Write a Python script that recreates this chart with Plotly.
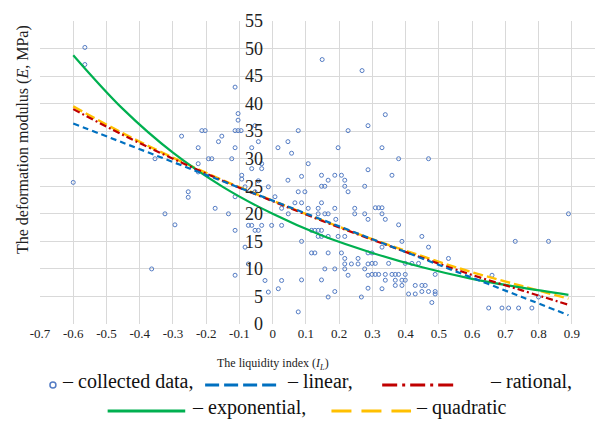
import plotly.graph_objects as go

# ---------------- data ----------------
li_vals = [
    -0.600, -0.565, -0.565, -0.364, -0.354, -0.324, -0.294, -0.274, -0.254, -0.254,
    -0.224, -0.224, -0.224, -0.213, -0.203,
    -0.193, -0.183, -0.173, -0.163, -0.153, -0.133, -0.123, -0.113, -0.104, -0.104,
    -0.113, -0.104, -0.095, -0.113, -0.113, -0.113, -0.113, -0.093, -0.093, -0.083,
    -0.083, -0.073, -0.073, -0.063, -0.063, -0.063, -0.053, -0.053, -0.053, -0.043,
    -0.043, -0.043, -0.033, -0.033, -0.033, -0.023, -0.013, -0.013, -0.003,
    0.007, 0.016, 0.017, 0.027, 0.027, 0.027, 0.046, 0.046, 0.047, 0.057,
    0.067, 0.077, 0.077, 0.077, 0.087, 0.087, 0.087, 0.087, 0.097,
    0.107, 0.107, 0.117, 0.117, 0.127, 0.127, 0.137, 0.137, 0.137, 0.137,
    0.147, 0.147, 0.147, 0.147, 0.147, 0.147, 0.149, 0.157, 0.157, 0.157,
    0.167, 0.167, 0.167, 0.167, 0.167, 0.187, 0.187, 0.187, 0.187, 0.190,
    0.197, 0.197,
    0.207, 0.207, 0.217, 0.217, 0.217, 0.217, 0.217, 0.217, 0.227, 0.227,
    0.227, 0.237, 0.247, 0.247, 0.257, 0.257, 0.267, 0.269, 0.277, 0.277,
    0.277, 0.287, 0.287, 0.287, 0.287, 0.287, 0.287, 0.287,
    0.299, 0.299, 0.299, 0.309, 0.309, 0.309, 0.319, 0.319, 0.329, 0.329,
    0.329, 0.329, 0.329, 0.339, 0.339, 0.339, 0.339, 0.349, 0.359, 0.359,
    0.369, 0.369, 0.369, 0.379, 0.379, 0.379, 0.389, 0.389, 0.389, 0.399,
    0.399, 0.399,
    0.409, 0.419, 0.429, 0.429, 0.439, 0.449, 0.449, 0.449, 0.459, 0.469,
    0.469, 0.469, 0.479, 0.489, 0.489, 0.489, 0.529, 0.650, 0.660, 0.690,
    0.710, 0.730, 0.740, 0.780, 0.800, 0.830, 0.890,
]
e_vals = [
    25.7, 50.2, 47.1, 10.0, 30.0, 20.0, 18.0, 34.1, 24.0, 23.0,
    29.1, 32.0, 27.6, 35.1, 35.1,
    30.0, 30.0, 21.0, 33.1, 34.1, 20.0, 30.0, 43.0, 38.2, 37.0,
    35.1, 35.1, 35.1, 32.0, 23.1, 17.0, 8.85, 27.0, 26.3, 24.9,
    13.95, 17.9, 10.9, 32.0, 28.2, 17.9, 36.0, 17.0, 24.0, 33.1,
    26.0, 17.0, 29.1, 28.2, 17.9, 7.9, 24.9, 5.8, 17.9,
    23.1, 32.0, 6.4, 21.0, 17.9, 7.9, 33.1, 26.1, 20.0, 31.0,
    22.0, 35.1, 24.0, 2.2, 26.8, 22.0, 15.0, 8.0, 24.0,
    29.1, 21.0, 17.0, 12.9, 17.0, 12.9, 21.0, 20.0, 17.0, 15.9,
    27.0, 25.0, 22.0, 17.0, 15.9, 8.0, 48.0, 25.0, 20.0, 10.0,
    26.1, 20.0, 15.9, 12.9, 4.9, 27.0, 21.0, 10.0, 5.9, 19.0,
    32.0, 15.9,
    27.0, 12.9, 26.1, 25.0, 15.9, 11.9, 10.9, 10.0, 35.1, 24.0,
    8.85, 10.9, 21.0, 20.0, 11.9, 10.9, 4.9, 46.0, 25.0, 20.0,
    10.0, 36.0, 28.0, 19.0, 12.9, 10.9, 8.85, 6.5,
    12.9, 11.0, 9.0, 21.1, 11.0, 9.0, 21.1, 9.0, 21.1, 20.0,
    32.0, 13.95, 6.4, 38.0, 19.0, 9.0, 7.95, 11.0, 27.0, 9.0,
    9.0, 7.95, 7.0, 30.0, 18.0, 9.0, 15.0, 7.95, 7.0, 11.0,
    9.0, 7.95,
    5.45, 11.0, 7.0, 5.45, 11.0, 15.9, 7.0, 5.9, 7.0, 30.0,
    13.95, 5.9, 3.9, 9.0, 5.9, 5.45, 11.9, 2.9, 8.85, 2.9,
    2.9, 15.0, 2.9, 2.9, 4.9, 15.0, 20.0,
]

curve_x = [-0.6, -0.45, -0.3, -0.15, 0.0, 0.15, 0.3, 0.45, 0.6, 0.75, 0.89]
linear_e = [36.4, 32.9, 29.4, 25.9, 22.4, 18.9, 15.4, 11.9, 8.4, 4.9, 1.6]
rational_e = [39.0, 34.3, 30.0, 26.0, 22.3, 18.7, 15.3, 12.0, 8.9, 6.1, 3.5]
exponential_e = [48.8, 39.0, 31.1, 24.9, 20.0, 16.0, 12.9, 10.3, 8.2, 6.6, 5.3]
quadratic_e = [39.5, 34.6, 30.2, 26.1, 22.4, 18.8, 15.4, 12.3, 9.4, 6.9, 4.6]

x_ticks = [-0.7, -0.6, -0.5, -0.4, -0.3, -0.2, -0.1, 0, 0.1, 0.2, 0.3, 0.4, 0.5,
           0.6, 0.7, 0.8, 0.9, 1]
x_tick_labels = ["-0.7", "-0.6", "-0.5", "-0.4", "-0.3", "-0.2", "-0.1", "0", "0.1",
                 "0.2", "0.3", "0.4", "0.5", "0.6", "0.7", "0.8", "0.9", "1"]
y_ticks = [0, 5, 10, 15, 20, 25, 30, 35, 40, 45, 50, 55]

# ---------------- styling ----------------
SERIF = "Liberation Serif, Times New Roman, serif"
MARKER_C = "rgb(84,124,196)"
BLUE = "rgb(0,112,192)"
RED = "rgb(192,0,0)"
GREEN = "rgb(0,176,80)"
YELLOW = "rgb(255,192,0)"
GRID = "#d9d9d9"

W, H = 603, 424
L, R, T, B = 32, 3, 13, 108
PW, PH = W - L - R, H - T - B


def px(x):
    return (x - L) / PW


def py(y):
    return (H - B - y) / PH


fig = go.Figure()

fig.add_trace(go.Scatter(
    x=li_vals, y=e_vals, mode="markers",
    marker=dict(symbol="circle-open", size=4, color=MARKER_C,
                line=dict(width=1, color=MARKER_C)),
    name="collected data"))

for ys, col, dash, w, nm in [
    (quadratic_e, YELLOW, "10px,4px", 2.4, "quadratic"),
    (exponential_e, GREEN, "solid", 2.2, "exponential"),
    (rational_e, RED, "7px,3px,2px,3px", 2.2, "rational"),
    (linear_e, BLUE, "6px,4px", 2.2, "linear"),
]:
    fig.add_trace(go.Scatter(x=curve_x, y=ys, mode="lines", name=nm,
                             line=dict(color=col, width=w, dash=dash, shape="spline")))

fig.update_layout(
    width=W, height=H,
    margin=dict(l=L, r=R, t=T, b=B),
    paper_bgcolor="white", plot_bgcolor="white",
    showlegend=False,
    font=dict(family=SERIF),
    xaxis=dict(range=[-0.7, 1], tickvals=x_ticks, ticktext=x_tick_labels,
               showgrid=True, gridcolor=GRID, gridwidth=1, zeroline=False,
               showline=False, ticks="", ticklabelstandoff=0,
               ticklabeloverflow="allow",
               tickfont=dict(family=SERIF, size=13, color="#222")),
    yaxis=dict(range=[0, 55], tickvals=y_ticks, anchor="free", position=0.7 / 1.7,
               showgrid=True, gridcolor=GRID, gridwidth=1, zeroline=False,
               showline=False, ticks="outside", ticklen=6,
               tickcolor="rgba(0,0,0,0)",
               tickfont=dict(family=SERIF, size=18, color="#222")),
)

annotations = [
    dict(text="The liquidity index (<i>I<sub>L</sub></i>)", xref="x", yref="paper",
         x=0, y=py(356), xanchor="center", yanchor="middle", showarrow=False,
         font=dict(family=SERIF, size=12, color="#222")),
    dict(text="The deformation modulus (<i>E</i>, MPa)", xref="paper", yref="paper",
         x=px(15), y=py(132), textangle=-90, xanchor="center", yanchor="middle",
         showarrow=False, font=dict(family=SERIF, size=16, color="#222")),
]

LEG_FONT = dict(family=SERIF, size=20, color="#111")
row1, row2 = 373, 399
legend_texts = [
    ("– collected data,", 52, row1),
    ("– linear,", 278, row1),
    ("– rational,", 482, row1),
    ("– exponential,", 183, row2),
    ("– quadratic", 408, row2),
]
for t, x0, y0 in legend_texts:
    annotations.append(dict(text=t, xref="paper", yref="paper", x=px(x0), y=py(y0),
                            xanchor="left", yanchor="middle", showarrow=False,
                            font=LEG_FONT))

lr1, lr2 = row1 + 4, row2 + 4
shapes = [
    dict(type="circle", xref="paper", yref="paper", x0=px(42), x1=px(48),
         y0=py(lr1 - 3), y1=py(lr1 + 3), line=dict(color=MARKER_C, width=1.5)),
]
for col, dash, x0, x1, y0, w in [
    (BLUE, "14px,5px", 198, 272, lr1, 3),
    (RED, "15px,5px,3px,5px", 376, 449, lr1, 3),
    (GREEN, "solid", 100, 178, lr2, 3),
    (YELLOW, "20px,10px", 325, 405, lr2, 3),
]:
    shapes.append(dict(type="line", xref="paper", yref="paper", x0=px(x0), x1=px(x1),
                       y0=py(y0), y1=py(y0), line=dict(color=col, width=w, dash=dash)))

fig.update_layout(annotations=annotations, shapes=shapes)

fig.write_html("out.html")
